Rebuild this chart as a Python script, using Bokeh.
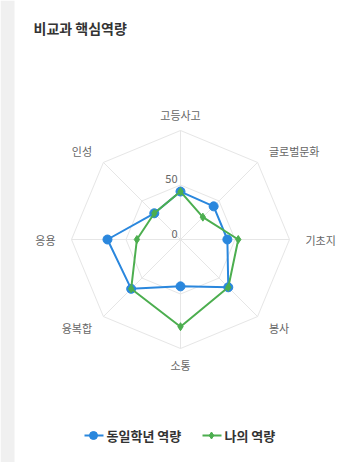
import numpy as np
from bokeh.plotting import figure
from bokeh.models import Range1d
from bokeh.core.properties import value
from bokeh.embed import file_html
from bokeh.resources import INLINE

title = "비교과 핵심역량"
categories = ["고등사고", "글로벌문화", "기초지", "봉사", "소통", "융복합", "응용", "인성"]
series_names = ["동일학년 역량", "나의 역량"]
peer_values = [44, 43, 43, 62, 43, 64, 67, 34]
my_values = [44, 29, 53, 62, 80, 64, 40, 34]
tick_values = [0, 50]
max_value = 100

FONT = value("Noto Sans CJK KR")
BLUE = "#2a87dd"
GREEN = "#4cae4f"

W, H = 337, 462
p = figure(width=W, height=H, output_backend="svg", toolbar_location=None,
           x_range=Range1d(0, W), y_range=Range1d(H, 0),
           min_border=0)
p.axis.visible = False
p.grid.visible = False
p.outline_line_color = None
p.background_fill_color = "white"

# left grey strip of the page
p.quad(left=[0], right=[14], top=[0], bottom=[H], fill_color="#f0f0f0", line_color=None)

cx, cy, R = 180, 239, 109
n = len(categories)
ang = np.arange(n) * 2 * np.pi / n


def pt(v, a):
    r = v / max_value * R
    return cx + r * np.sin(a), cy - r * np.cos(a)

# rings
for tv in [50, 100]:
    xs, ys = pt(tv, np.append(ang, ang[0]))
    p.line(list(xs), list(ys), line_color="#e6e6e6", line_width=1)
# spokes
for a in ang:
    x1, y1 = pt(max_value, a)
    p.line([cx, x1], [cy, y1], line_color="#e6e6e6", line_width=1)

# tick labels
for tv in tick_values:
    x, y = pt(tv, 0)
    p.text([x - 3], [y - 6], text=[str(tv)], text_font=FONT, text_font_size="11px",
           text_color="#666666", text_align="right", text_baseline="middle")

# category labels
LR = 125
for c, a in zip(categories, ang):
    x = cx + LR * np.sin(a)
    y = cy - LR * np.cos(a)
    s = np.sin(a)
    align = "center" if abs(s) < 0.1 else ("left" if s > 0 else "right")
    p.text([x], [y], text=[c], text_font=FONT, text_font_size="11px",
           text_color="#666666", text_align=align, text_baseline="middle")

# series
for vals, col, marker, size in [(peer_values, BLUE, "circle", 9), (my_values, GREEN, "diamond", 8)]:
    xs, ys = pt(np.array(vals, dtype=float), ang)
    p.line(list(xs) + [xs[0]], list(ys) + [ys[0]], line_color=col, line_width=2)
    p.scatter(list(xs), list(ys), marker=marker, size=size, fill_color=col, line_color=col)

# title
p.text([33], [27], text=[title], text_font=FONT, text_font_size="14px", text_font_style="bold",
       text_color="#333333", text_align="left", text_baseline="middle")

# legend
ly = 435
for (x0, name, col, marker, size) in [(84, series_names[0], BLUE, "circle", 8),
                                      (202, series_names[1], GREEN, "diamond", 7)]:
    p.line([x0, x0 + 19], [ly, ly], line_color=col, line_width=2)
    p.scatter([x0 + 9], [ly], marker=marker, size=size, fill_color=col, line_color=col)
    p.text([x0 + 22], [ly], text=[name], text_font=FONT, text_font_size="13px",
           text_font_style="bold", text_color="#333333", text_align="left", text_baseline="middle")

open("out.html", "w").write(file_html(p, INLINE))
